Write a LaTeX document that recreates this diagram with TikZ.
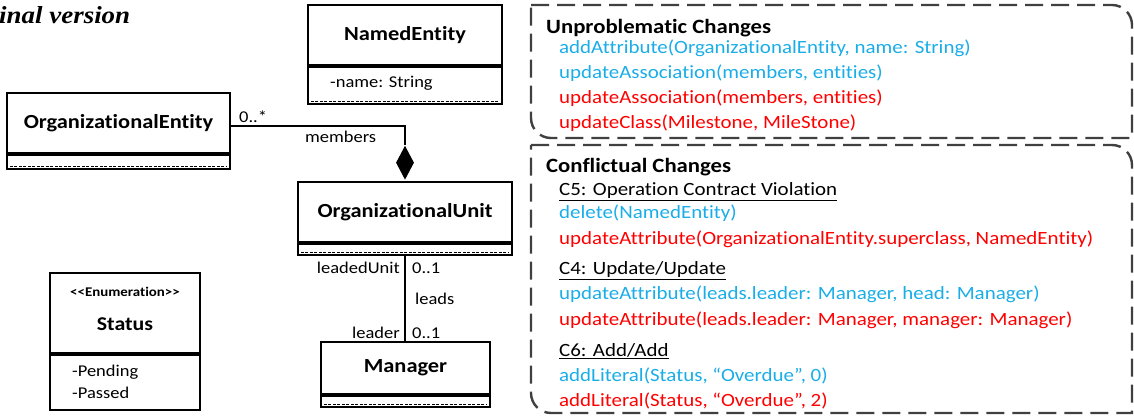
\documentclass[tikz,border=0pt]{standalone}
\usepackage{fontspec}
\setmainfont{Carlito}[Ligatures={NoCommon}, FakeStretch=1.12]
\newfontfamily\titlefont{Liberation Serif}[FakeStretch=1.1]
\usetikzlibrary{shapes.geometric}
\definecolor{cblue}{HTML}{1AADE8}
\definecolor{cred}{HTML}{FF0000}
\definecolor{cgray}{HTML}{404040}
\tikzset{
  classname/.style={draw=black, line width=2.2pt, inner sep=0pt, font=\fontsize{20}{24}\selectfont\bfseries},
  comp/.style={draw=black, line width=2.2pt, inner sep=0pt, anchor=north},
  lbl/.style={inner sep=0pt, font=\fontsize{16.5}{20}\selectfont},
  chg/.style={inner sep=0pt, anchor=base west, font=\fontsize{18.7}{22}\selectfont},
  hdr/.style={inner sep=0pt, anchor=base west, font=\fontsize{20.3}{24}\selectfont\bfseries},
  dbox/.style={draw=cgray, line width=2.4pt, dash pattern=on 18pt off 8pt},
  assoc/.style={draw=black, line width=1.6pt},
  emptydash/.style={draw=black, line width=0.8pt, dash pattern=on 3pt off 1.5pt}
}
\begin{document}
\begin{tikzpicture}[x=1pt,y=-1pt]
\useasboundingbox (0,0) rectangle (1134,419);

% title
\node[inner sep=0pt, anchor=base west, font=\fontsize{24.5}{28}\selectfont\titlefont\bfseries\itshape] (title) at (-1,24) {inal version};

% NamedEntity
\node[classname, minimum width=194pt, minimum height=60pt] (ne) at (405,35) {NamedEntity};
\node[comp, minimum width=194pt, minimum height=37pt] (nec) at (ne.south) {};
\node[lbl, anchor=base west] (neattr) at (330,88) {-name: String};
\draw[emptydash] ([xshift=4pt,yshift=4pt]nec.south west) -- ([xshift=-4pt,yshift=4pt]nec.south east);

% OrganizationalEntity
\node[classname, minimum width=223pt, minimum height=60pt] (oe) at (118.5,123) {OrganizationalEntity};
\node[comp, minimum width=223pt, minimum height=14pt] (oec) at (oe.south) {};
\draw[emptydash] ([xshift=4pt,yshift=4pt]oec.south west) -- ([xshift=-4pt,yshift=4pt]oec.south east);

% OrganizationalUnit
\node[classname, minimum width=214pt, minimum height=60pt] (ou) at (405,212) {OrganizationalUnit};
\node[comp, minimum width=214pt, minimum height=11pt] (ouc) at (ou.south) {};
\draw[emptydash] ([xshift=4pt,yshift=4pt]ouc.south west) -- ([xshift=-4pt,yshift=4pt]ouc.south east);

% Manager
\node[classname, minimum width=169pt, minimum height=52pt] (mg) at (405.5,368) {Manager};
\node[comp, minimum width=169pt, minimum height=11pt] (mgc) at (mg.south) {};
\draw[emptydash] ([xshift=4pt,yshift=4pt]mgc.south west) -- ([xshift=-4pt,yshift=4pt]mgc.south east);

% Status
\node[draw=black, line width=2.2pt, inner sep=0pt, minimum width=150pt, minimum height=80pt] (st) at (125,313) {};
\node[inner sep=0pt, font=\fontsize{13.3}{16}\selectfont\bfseries] (stst) at (125,292) {{<}{<}Enumeration{>}{>}};
\node[inner sep=0pt, font=\fontsize{19.5}{23}\selectfont\bfseries] (stn) at (125,324) {Status};
\node[comp, minimum width=150pt, minimum height=55pt] (stc) at (st.south) {};
\node[lbl, anchor=base west] (stp1) at (72,376) {-Pending};
\node[lbl, anchor=base west] (stp2) at (72,398) {-Passed};

% composition
\node[diamond, fill=black, inner sep=0pt, minimum width=18pt, minimum height=34pt, anchor=south] (dia) at ([yshift=1pt]ou.north) {};
\draw[assoc] ([yshift=-3pt]oe.east) -| (dia.north);
\node[lbl, anchor=base west] (m1) at (239,123) {0..*};
\node[lbl, anchor=base west] (m2) at (305,143) {members};

% leads
\draw[assoc] (ouc.south) -- (mg.north -| ouc.south);
\node[lbl, anchor=base east] (l1) at (400,274) {leadedUnit};
\node[lbl, anchor=base west] (l2) at (412,274) {0..1};
\node[lbl, anchor=base west] (l3) at (415,305) {leads};
\node[lbl, anchor=base east] (l4) at (400,338) {leader};
\node[lbl, anchor=base west] (l5) at (412,338) {0..1};

% dashed boxes
\draw[dbox] (531,5) -- (1112,5) arc[start angle=90, end angle=0, radius=20pt] -- (1132,138) -- (551,138) arc[start angle=270, end angle=180, radius=20pt] -- cycle;
\draw[dbox] (531,145) -- (1112,145) arc[start angle=90, end angle=0, radius=20pt] -- (1132,413) -- (551,413) arc[start angle=270, end angle=180, radius=20pt] -- cycle;

% unproblematic
\node[hdr] (u0) at (546,34) {Unproblematic Changes};
\node[chg, text=cblue] (u1) at (559,54) {addAttribute(OrganizationalEntity, name: String)};
\node[chg, text=cblue] (u2) at (559,79) {updateAssociation(members, entities)};
\node[chg, text=cred] (u3) at (559,104) {updateAssociation(members, entities)};
\node[chg, text=cred] (u4) at (559,129) {updateClass(Milestone, MileStone)};

% conflictual
\node[hdr] (c0) at (546,173) {Conflictual Changes};
\node[chg] (c1) at (559,196) {\underline{C5: Operation Contract Violation}};
\node[chg, text=cblue] (c2) at (559,219) {delete(NamedEntity)};
\node[chg, text=cred] (c3) at (559,245) {updateAttribute(OrganizationalEntity.superclass, NamedEntity)};
\node[chg] (c4) at (559,275) {\underline{C4: Update/Update}};
\node[chg, text=cblue] (c5) at (559,300) {updateAttribute(leads.leader: Manager, head: Manager)};
\node[chg, text=cred] (c6) at (559,326) {updateAttribute(leads.leader: Manager, manager: Manager)};
\node[chg] (c7) at (559,356) {\underline{C6: Add/Add}};
\node[chg, text=cblue] (c8) at (559,381) {addLiteral(Status, “Overdue”, 0)};
\node[chg, text=cred] (c9) at (559,406) {addLiteral(Status, “Overdue”, 2)};
\end{tikzpicture}
\end{document}
